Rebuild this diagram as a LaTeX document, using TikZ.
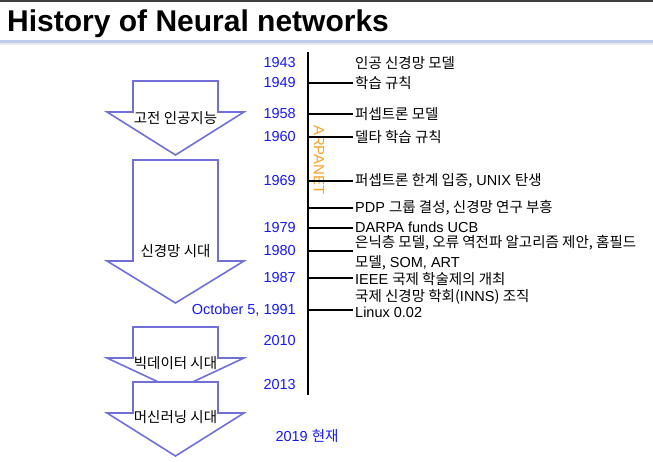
\documentclass[tikz,border=0pt]{standalone}
\usepackage{fontspec}
\setmainfont{Liberation Sans}
\newfontfamily\kr{Noto Sans CJK KR}
\usetikzlibrary{arrows.meta,positioning}

\definecolor{erablue}{RGB}{112,112,214}
\definecolor{yearblue}{RGB}{24,24,240}
\definecolor{netorange}{RGB}{255,160,40}
\definecolor{rulegray}{RGB}{188,204,234}

\begin{document}
\begin{tikzpicture}[>=Latex,x=1pt,y=-1pt,
  year/.style={text=yearblue,anchor=east,inner sep=0pt,font=\fontsize{14.5}{16}\selectfont},
  event/.style={anchor=west,inner xsep=2pt,inner ysep=0pt,align=left,font=\fontsize{14.5}{20}\selectfont},
  era/.style={draw=erablue,line width=1.6pt,fill=white,miter limit=20},
  eralabel/.style={inner sep=0pt,font=\fontsize{14.5}{16}\selectfont\kr},
  tick/.style={line width=1.6pt}]
  \useasboundingbox (0,0) rectangle (653,461);
  % title bar
  \fill[black!75] (0,0) rectangle (653,2);
  \node[anchor=base west,inner sep=0pt,font=\fontsize{30}{31}\selectfont\bfseries] (title) at (7,31) {History of Neural networks};
  \fill[rulegray] (0,40) rectangle (653,42.5);
  \fill[black!8] (0,42.5) rectangle (653,45);

  % eras (outlined arrows)
  \foreach \top/\wing/\tip/\lab/\ly in {81/112/155/고전 인공지능/118, 160/261/303/신경망 시대/251,
      327/358/390/빅데이터 시대/363, 382/413/456/머신러닝 시대/417} {
    \draw[era] (133,\top) -- (218,\top) -- (218,\wing) -- (244,\wing) -- (175.5,\tip)
      -- (107,\wing) -- (133,\wing) -- cycle;
    \node[eralabel] at (175.5,\ly) {\lab};
  }

  % time line
  \coordinate (lineTop) at (308,52);
  \coordinate (lineEnd) at (308,395);
  \draw[line width=1.8pt] (lineTop) -- (lineEnd);
  \node[text=netorange,rotate=-90,inner sep=0pt,font=\fontsize{15}{16}\selectfont] (arpanet) at (319,160) {ARPANET};

  % years
  \foreach \y/\yr in {63/1943, 83/1949, 114/1958, 137/1960, 181/1969, 228/1979, 251/1980,
      278/1987, 310/{October 5, 1991}, 341/2010, 385/2013} {
    \node[year] (y\y) at (296,\y) {\yr};
  }
  \node[year,anchor=center] (now) at (307,436) {2019 {\kr 현재}};

  % events
  \node[event] (e63) at (353,63) {\kr 인공 신경망 모델};
  \node[event] (e83) at (353,83) {\kr 학습 규칙};
  \node[event] (e114) at (353,114) {\kr 퍼셉트론 모델};
  \node[event] (e137) at (353,137) {\kr 델타 학습 규칙};
  \node[event] (e181) at (353,181) {{\kr 퍼셉트론 한계 입증,} UNIX {\kr 탄생}};
  \node[event] (e208) at (353,208) {PDP {\kr 그룹 결성, 신경망 연구 부흥}};
  \node[event] (e228) at (353,227) {DARPA funds UCB};
  \node[event] (e251) at (353,253) {{\kr 은닉층 모델, 오류 역전파 알고리즘 제안, 홈필드}\\{\kr 모델,} SOM, ART};
  \node[event] (e278) at (353,279) {IEEE {\kr 국제 학술제의 개최}};
  \node[event] (e297) at (353,297) {{\kr 국제 신경망 학회(}INNS{\kr ) 조직}};
  \node[event] (e310) at (353,312) {Linux 0.02};

  % ticks
  \foreach \y in {83,114,137,181,208,228,251,278,310} {
    \coordinate (t\y) at (308,\y);
    \draw[tick] (t\y) -- (t\y -| e\y.west);
  }
\end{tikzpicture}
\end{document}
